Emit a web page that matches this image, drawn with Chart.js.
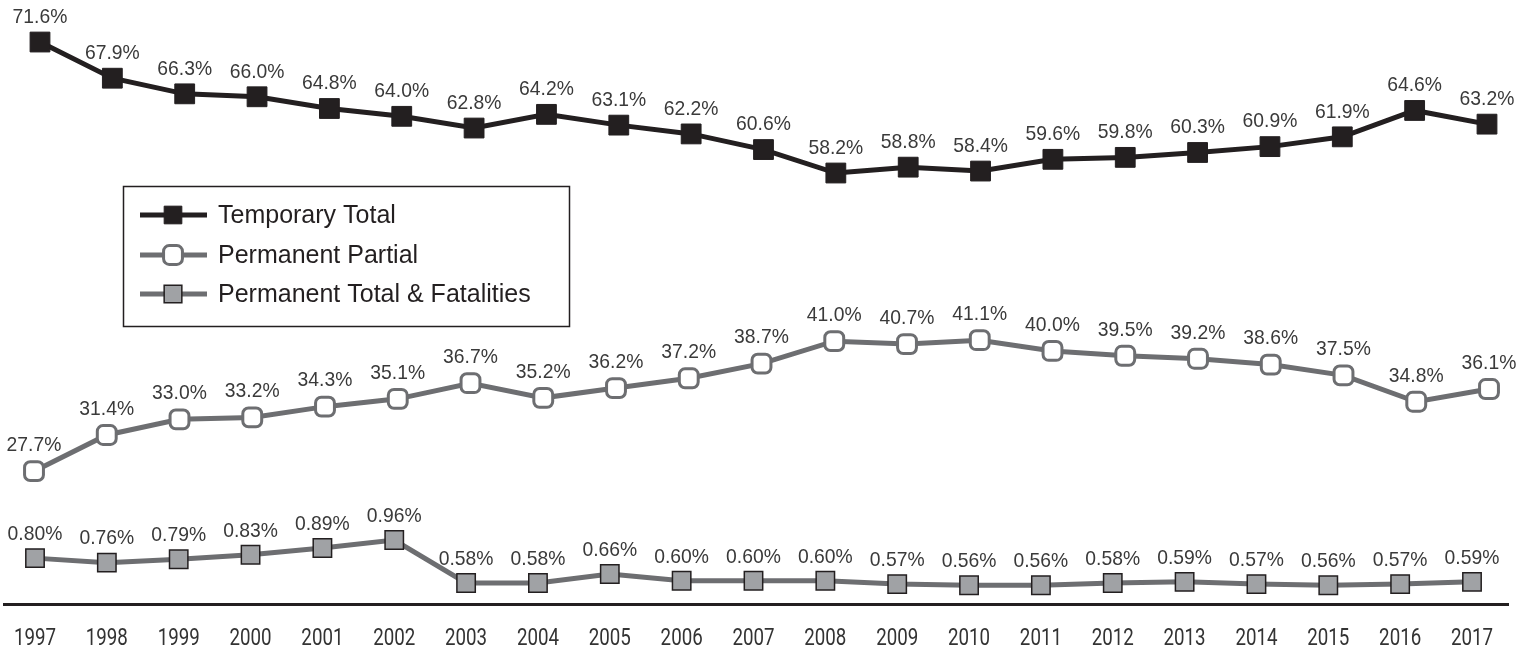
<!DOCTYPE html>
<html>
<head>
<meta charset="utf-8">
<script src="https://cdn.jsdelivr.net/npm/chart.js@4.4.1/dist/chart.umd.min.js"></script>
<style>
  html, body { margin: 0; padding: 0; background: #fff; }
  #wrap { width: 1534px; height: 652px; }
</style>
</head>
<body>
<div id="wrap"><canvas id="chart" width="1534" height="652"></canvas></div>
<script>
// 年ごとの割合（%）
const years = [1997, 1998, 1999, 2000, 2001, 2002, 2003, 2004, 2005, 2006, 2007,
  2008, 2009, 2010, 2011, 2012, 2013, 2014, 2015, 2016, 2017];
const temporaryTotal = [71.6, 67.9, 66.3, 66.0, 64.8, 64.0, 62.8, 64.2, 63.1, 62.2, 60.6,
  58.2, 58.8, 58.4, 59.6, 59.8, 60.3, 60.9, 61.9, 64.6, 63.2];
const permanentPartial = [27.7, 31.4, 33.0, 33.2, 34.3, 35.1, 36.7, 35.2, 36.2, 37.2, 38.7,
  41.0, 40.7, 41.1, 40.0, 39.5, 39.2, 38.6, 37.5, 34.8, 36.1];
const permanentTotalFatal = [0.80, 0.76, 0.79, 0.83, 0.89, 0.96, 0.58, 0.58, 0.66, 0.60, 0.60,
  0.60, 0.57, 0.56, 0.56, 0.58, 0.59, 0.57, 0.56, 0.57, 0.59];

const DARK = '#231f20';
const GRAY = '#6d6e71';
const TEXT = '#3a3a3a';
const SANS = '"Liberation Sans", Arial, sans-serif';
const YEAR_FONT = '24px Roboto, "Liberation Sans", sans-serif';

function toPoints(values) {
  return values.map((v, i) => ({ x: years[i], y: v }));
}

// 細めの文字（横方向に縮めて描く）
function narrowText(ctx, text, x, y, squeeze) {
  ctx.save();
  ctx.translate(x, y);
  ctx.scale(squeeze, 1);
  ctx.fillText(text, 0, 0);
  ctx.restore();
}

// 各点の上に値を表示
const valueLabels = {
  id: 'valueLabels',
  afterDatasetsDraw(chart) {
    const ctx = chart.ctx;
    ctx.save();
    ctx.font = '21px ' + SANS;
    ctx.fillStyle = TEXT;
    ctx.textAlign = 'center';
    ctx.textBaseline = 'middle';
    chart.data.datasets.forEach((ds, di) => {
      const meta = chart.getDatasetMeta(di);
      meta.data.forEach((el, i) => {
        const v = ds.data[i].y;
        narrowText(ctx, v.toFixed(ds.decimals) + '%', el.x, el.y - ds.labelOffset, 0.92);
      });
    });
    ctx.restore();
  }
};

// 横軸の年ラベル
const yearLabels = {
  id: 'yearLabels',
  afterDraw(chart) {
    const ctx = chart.ctx;
    const xs = chart.scales.x;
    ctx.save();
    ctx.font = YEAR_FONT;
    ctx.fillStyle = '#333';
    ctx.textAlign = 'center';
    ctx.textBaseline = 'alphabetic';
    years.forEach((yr) => {
      narrowText(ctx, String(yr), xs.getPixelForValue(yr), 645, 0.78);
    });
    ctx.restore();
  }
};

// 枠付きの凡例
const boxLegend = {
  id: 'boxLegend',
  afterDraw(chart) {
    const ctx = chart.ctx;
    const box = { x: 123.5, y: 186.5, w: 446, h: 140 };
    const rows = [215, 255, 294];
    ctx.save();
    ctx.lineWidth = 1.5;
    ctx.strokeStyle = DARK;
    ctx.strokeRect(box.x, box.y, box.w, box.h);
    chart.data.datasets.forEach((ds, i) => {
      const y = rows[i];
      ctx.lineWidth = ds.borderWidth;
      ctx.strokeStyle = ds.borderColor;
      ctx.beginPath();
      ctx.moveTo(140, y);
      ctx.lineTo(207, y);
      ctx.stroke();
      ctx.fillStyle = ds.pointBackgroundColor;
      ctx.strokeStyle = ds.pointBorderColor;
      ctx.lineWidth = ds.pointBorderWidth;
      Chart.helpers.drawPoint(ctx, {
        pointStyle: ds.pointStyle,
        radius: ds.legendRadius,
        rotation: 0,
        borderWidth: ds.pointBorderWidth
      }, 173, y);
      ctx.font = '25px ' + SANS;
      ctx.fillStyle = DARK;
      ctx.textAlign = 'left';
      ctx.textBaseline = 'middle';
      ctx.fillText(ds.label, 218, y + 1);
    });
    ctx.restore();
  }
};

const hiddenX = (min, max) => ({ type: 'linear', display: false, min: min, max: max });

new Chart(document.getElementById('chart'), {
  type: 'line',
  data: {
    datasets: [
      {
        label: 'Temporary Total',
        data: toPoints(temporaryTotal),
        xAxisID: 'xTop',
        yAxisID: 'y',
        borderColor: DARK,
        borderWidth: 5,
        pointStyle: 'rect',
        pointRadius: 14,
        legendRadius: 12.5,
        pointBackgroundColor: DARK,
        pointBorderColor: DARK,
        pointBorderWidth: 1,
        decimals: 1,
        labelOffset: 25
      },
      {
        label: 'Permanent Partial',
        data: toPoints(permanentPartial),
        xAxisID: 'xMid',
        yAxisID: 'y',
        borderColor: GRAY,
        borderWidth: 5,
        pointStyle: 'rectRounded',
        pointRadius: 11,
        legendRadius: 11,
        pointBackgroundColor: '#ffffff',
        pointBorderColor: GRAY,
        pointBorderWidth: 3,
        decimals: 1,
        labelOffset: 26
      },
      {
        label: 'Permanent Total & Fatalities',
        data: toPoints(permanentTotalFatal),
        xAxisID: 'x',
        yAxisID: 'y2',
        borderColor: GRAY,
        borderWidth: 5,
        pointStyle: 'rect',
        pointRadius: 13,
        legendRadius: 12.5,
        pointBackgroundColor: '#a0a2a5',
        pointBorderColor: DARK,
        pointBorderWidth: 1.5,
        decimals: 2,
        labelOffset: 24
      }
    ]
  },
  options: {
    responsive: false,
    animation: false,
    devicePixelRatio: 1,
    layout: { autoPadding: false, padding: { left: 4, right: 26, top: 0, bottom: 48 } },
    plugins: {
      legend: { display: false },
      tooltip: { enabled: false }
    },
    elements: { line: { tension: 0 } },
    scales: {
      x: {
        type: 'linear',
        min: 1996.5686,
        max: 2017.501,
        grid: { display: false, drawTicks: false },
        border: { display: true, color: DARK, width: 3 },
        ticks: { display: false, stepSize: 1 }
      },
      xTop: hiddenX(1996.5024, 2017.2903),
      xMid: hiddenX(1996.5876, 2017.2612),
      y: { display: false, min: 14.11, max: 75.9 },
      y2: { display: false, min: 0.394, max: 5.739 }
    }
  },
  plugins: [valueLabels, yearLabels, boxLegend]
});
</script>
</body>
</html>
